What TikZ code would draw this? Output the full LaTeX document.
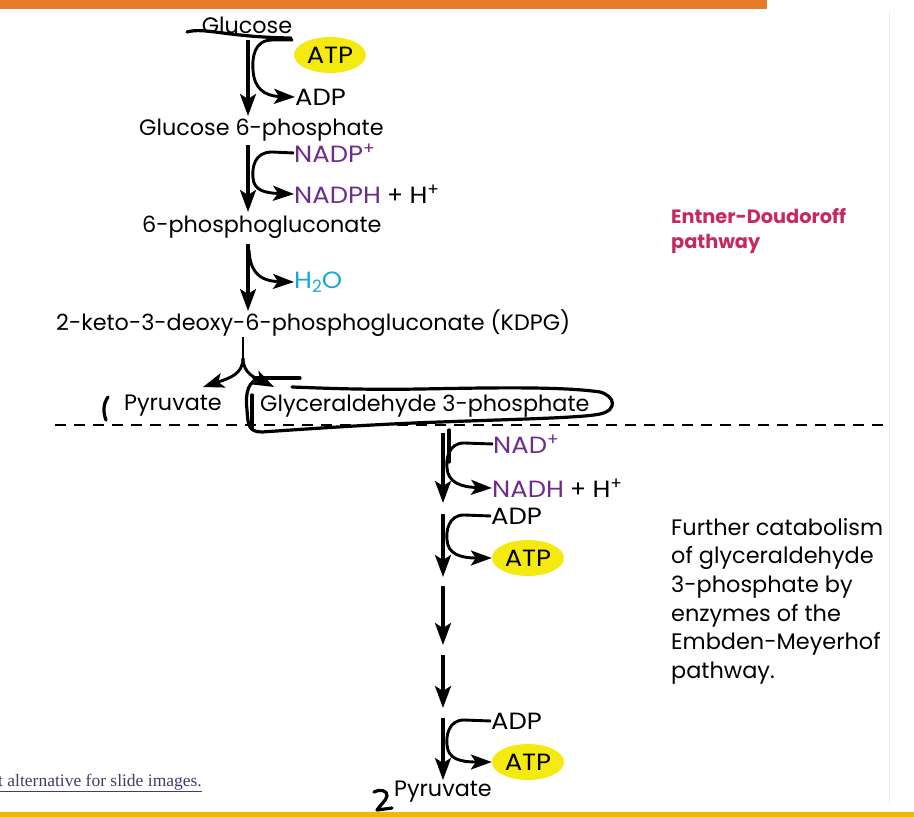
\documentclass[tikz,border=0pt]{standalone}
\usepackage{fontspec}
\setmainfont{Poppins}
\newfontfamily\serifnote{Liberation Serif}
\usetikzlibrary{arrows.meta,shapes.geometric}
\definecolor{orangebar}{HTML}{E87B2A}
\definecolor{goldbar}{HTML}{F2B705}
\definecolor{paleline}{HTML}{E3F1E0}
\definecolor{hlyellow}{HTML}{F4EA10}
\definecolor{coenz}{HTML}{6E2C8C}
\definecolor{water}{HTML}{19A7D6}
\definecolor{edcolor}{HTML}{C8285E}
\definecolor{notecol}{HTML}{3D3F6B}
\newcommand{\supp}[1]{\raisebox{0.6ex}{\fontsize{17}{17}\selectfont #1}}
\newcommand{\subb}[1]{\raisebox{-0.3ex}{\fontsize{17}{17}\selectfont #1}}
\newcommand{\wide}[1]{\scalebox{1.1}[1]{#1}}
\tikzset{
  lbl/.style={inner sep=0pt, font=\fontsize{22.3}{22.3}\selectfont, text=black},
  sidelbl/.style={inner sep=0pt, anchor=west, font=\fontsize{23.5}{23.5}\selectfont, text=black},
  atpbox/.style={ellipse, fill=hlyellow, minimum width=72pt, minimum height=36pt, inner sep=0pt, font=\fontsize{23.5}{23.5}\selectfont},
  flow/.style={line width=3.2pt, -{Stealth[length=22pt,width=16pt,inset=5pt]}},
  branch/.style={line width=2.9pt, -{Stealth[length=21pt,width=15pt,inset=5pt]}},
  pen/.style={line width=3.2pt, line cap=round, line join=round},
  sidenote/.style={inner sep=0pt, anchor=north west, align=left, font=\fontsize{22.4}{28.6}\selectfont}
}
\begin{document}
\begin{tikzpicture}[x=1pt,y=-1pt]
\useasboundingbox (0,0) rectangle (914,817);
% frame bars
\fill[orangebar] (0,0) rectangle (767,9);
\fill[goldbar] (0,812) rectangle (914,817);
\draw[paleline, line width=1pt] (889,12) -- (889,803);

% ----- upper part: Entner-Doudoroff -----
\node[lbl] (glc) at (247,25) {Glucose};
\node[atpbox] (atp1) at (330,55) {\wide{ATP}};
\node[sidelbl] (adp1) at (295,97) {\wide{ADP}};
\node[lbl, anchor=west] (g6p) at (139,130) {Glucose 6-phosphate};
\node[sidelbl] (nadp) at (294,153) {\textcolor{coenz}{\wide{NADP}\supp{+}}};
\node[sidelbl] (nadph) at (294,194) {\textcolor{coenz}{\wide{NADPH}} + \wide{H}\supp{+}};
\node[lbl, anchor=west] (pg) at (142,227) {6-phosphogluconate};
\node[sidelbl] (water) at (294,282) {\textcolor{water}{\wide{H}\subb{2}\wide{O}}};
\node[lbl, anchor=west] (kdpg) at (56,323) {2-keto-3-deoxy-6-phosphogluconate (KDPG)};
\node[lbl, anchor=west] (pyr1) at (124,406) {Pyruvate};
\node[lbl, anchor=west] (gap) at (260,406) {Glyceraldehyde 3-phosphate};

\coordinate (a1s) at (248,40);  \coordinate (a1e) at (248,116);
\coordinate (a2s) at (248,145); \coordinate (a2e) at (248,212);
\coordinate (a3s) at (248,244); \coordinate (a3e) at (248,311);
\draw[flow] (a1s) -- (a1e);
\draw[flow] (a2s) -- (a2e);
\draw[flow] (a3s) -- (a3e);

\coordinate (atp1in) at (293,40);
\draw[branch] (atp1in) -- (272,40) .. controls (254,40) and (252,58) .. (253,70)
  .. controls (254,88) and (264,96) .. (adp1.west);
\draw[branch] (nadp.west) -- (272,152) .. controls (254,152) and (252,168) .. (253,178)
  .. controls (254,190) and (264,193) .. (nadph.west);
\draw[branch] (249,250) .. controls (250,268) and (256,281) .. (water.west);

% split
\coordinate (sp1) at (243,337);
\coordinate (sp2) at (243,358);
\draw[line width=2.9pt] (sp1) -- (sp2);
\draw[branch] (sp2) .. controls (243,374) and (230,378) .. (203,387);
\draw[branch] (sp2) .. controls (243,374) and (256,378) .. (274,387);

% dashed separator
\draw[line width=1.4pt, dash pattern=on 11pt off 8pt] (55,425) -- (885,425);

% ----- lower part: Embden-Meyerhof -----
\node[sidelbl] (nad) at (493,444) {\textcolor{coenz}{\wide{NAD}\supp{+}}};
\node[sidelbl] (nadh) at (492,488) {\textcolor{coenz}{\wide{NADH}} + \wide{H}\supp{+}};
\node[sidelbl] (adp2) at (491,516) {\wide{ADP}};
\node[atpbox] (atp2) at (528,558) {\wide{ATP}};
\node[sidelbl] (adp3) at (491,721) {\wide{ADP}};
\node[atpbox] (atp3) at (528,762) {\wide{ATP}};
\node[lbl] (pyr2) at (443,792) {Pyruvate};

\coordinate (b1s) at (443,433); \coordinate (b1e) at (443,503);
\coordinate (b2s) at (443,514); \coordinate (b2e) at (443,577);
\coordinate (b3s) at (443,586); \coordinate (b3e) at (443,645);
\coordinate (b4s) at (443,655); \coordinate (b4e) at (443,708);
\coordinate (b5s) at (443,718); \coordinate (b5e) at (443,780);
\foreach \s/\e in {b1s/b1e,b2s/b2e,b3s/b3e,b4s/b4e,b5s/b5e}
  \draw[flow] (\s) -- (\e);

\draw[branch] (nad.west) -- (464,443) .. controls (448,443) and (446,460) .. (447,468)
  .. controls (448,482) and (460,487) .. (nadh.west);
\draw[branch] (adp2.west) -- (464,515) .. controls (448,515) and (446,532) .. (447,540)
  .. controls (448,554) and (460,558) .. (atp2.west);
\draw[branch] (adp3.west) -- (464,720) .. controls (448,720) and (446,737) .. (447,745)
  .. controls (448,759) and (460,762) .. (atp3.west);

% side notes
\node[inner sep=0pt, anchor=north west, align=left, text=edcolor,
      font=\fontsize{19.3}{25}\bfseries\selectfont] (ed) at (671,208)
  {Entner-Doudoroff\\pathway};
\node[sidenote] (em) at (671,518)
  {Further catabolism\\of glyceraldehyde\\3-phosphate by\\enzymes of the\\Embden-Meyerhof\\pathway.};
\node[inner sep=0pt, anchor=west, text=notecol, font=\serifnote\fontsize{17.5}{17.5}\selectfont] (alt) at (-2,783)
  {\underline{t alternative for slide images.}};

% ----- handwritten annotations -----
\draw[pen] (187,32) .. controls (205,27) and (225,37) .. (291,38);
\draw[pen] (108,397) .. controls (103,404) and (103,412) .. (106,420);
\draw[pen] (252,395) -- (252,428);
\draw[pen] (449,430) -- (449,462);
\draw[pen] (254,378) -- (300,378);
\draw[pen] (262,378) .. controls (248,380) and (245,392) .. (247,410)
  .. controls (248,424) and (248,432) .. (262,432)
  .. controls (320,428) and (380,424) .. (440,422)
  .. controls (520,419) and (580,418) .. (600,414)
  .. controls (618,410) and (615,396) .. (600,392)
  .. controls (560,386) and (480,388) .. (420,389)
  .. controls (360,390) and (320,388) .. (292,387);
\draw[pen] (374,792) .. controls (379,789) and (388,790) .. (387,796)
  .. controls (386,801) and (380,805) .. (377,810) -- (392,808);
\end{tikzpicture}
\end{document}
